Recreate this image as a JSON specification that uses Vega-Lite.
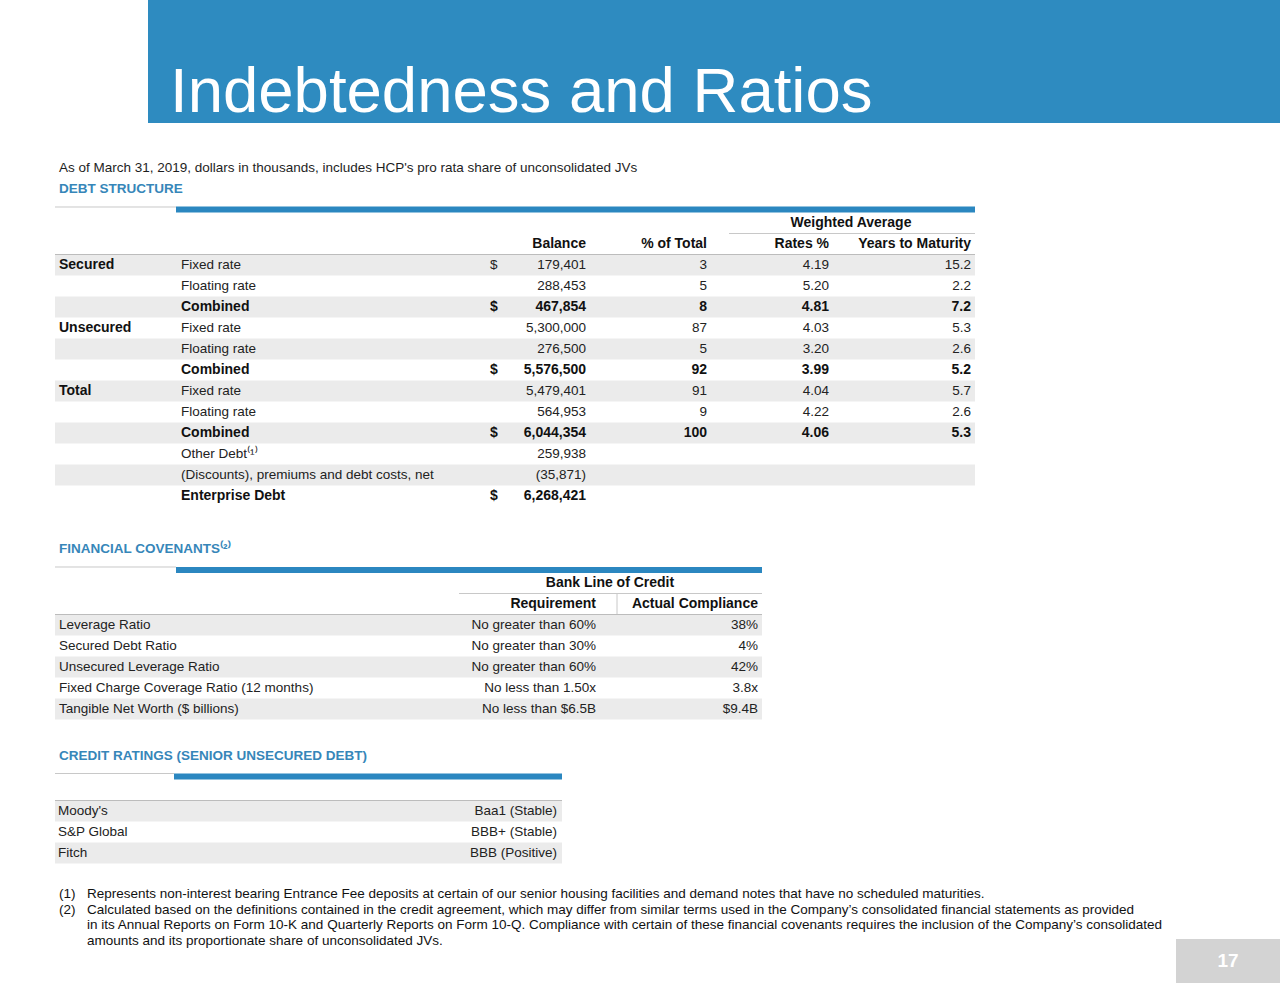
{
  "$schema": "https://vega.github.io/schema/vega-lite/v6.json",
  "width": 1280,
  "height": 989,
  "padding": 0,
  "autosize": "none",
  "background": "#ffffff",
  "config": {
    "view": {"stroke": null},
    "axis": {"disable": true},
    "text": {"font": "Liberation Sans", "fontSize": 13.5, "baseline": "middle"}
  },
  "datasets": {
    "debt": [
      {"r": 0, "k": "head", "c": 9, "t": "Weighted Average"},
      {"r": 1, "k": "head", "c": 5, "t": "Balance"},
      {"r": 1, "k": "head", "c": 6, "t": "% of Total"},
      {"r": 1, "k": "head", "c": 8, "t": "Rates %"},
      {"r": 1, "k": "head", "c": 10, "t": "Years to Maturity"},
      {"r": 2, "k": "detail", "c": 1, "t": "Secured"},
      {"r": 2, "k": "detail", "c": 3, "t": "Fixed rate"},
      {"r": 2, "k": "detail", "c": 4, "t": "$"},
      {"r": 2, "k": "detail", "c": 5, "t": "179,401"},
      {"r": 2, "k": "detail", "c": 6, "t": "3"},
      {"r": 2, "k": "detail", "c": 8, "t": "4.19"},
      {"r": 2, "k": "detail", "c": 10, "t": "15.2"},
      {"r": 3, "k": "detail", "c": 3, "t": "Floating rate"},
      {"r": 3, "k": "detail", "c": 5, "t": "288,453"},
      {"r": 3, "k": "detail", "c": 6, "t": "5"},
      {"r": 3, "k": "detail", "c": 8, "t": "5.20"},
      {"r": 3, "k": "detail", "c": 10, "t": "2.2"},
      {"r": 4, "k": "total", "c": 3, "t": "Combined"},
      {"r": 4, "k": "total", "c": 4, "t": "$"},
      {"r": 4, "k": "total", "c": 5, "t": "467,854"},
      {"r": 4, "k": "total", "c": 6, "t": "8"},
      {"r": 4, "k": "total", "c": 8, "t": "4.81"},
      {"r": 4, "k": "total", "c": 10, "t": "7.2"},
      {"r": 5, "k": "detail", "c": 1, "t": "Unsecured"},
      {"r": 5, "k": "detail", "c": 3, "t": "Fixed rate"},
      {"r": 5, "k": "detail", "c": 5, "t": "5,300,000"},
      {"r": 5, "k": "detail", "c": 6, "t": "87"},
      {"r": 5, "k": "detail", "c": 8, "t": "4.03"},
      {"r": 5, "k": "detail", "c": 10, "t": "5.3"},
      {"r": 6, "k": "detail", "c": 3, "t": "Floating rate"},
      {"r": 6, "k": "detail", "c": 5, "t": "276,500"},
      {"r": 6, "k": "detail", "c": 6, "t": "5"},
      {"r": 6, "k": "detail", "c": 8, "t": "3.20"},
      {"r": 6, "k": "detail", "c": 10, "t": "2.6"},
      {"r": 7, "k": "total", "c": 3, "t": "Combined"},
      {"r": 7, "k": "total", "c": 4, "t": "$"},
      {"r": 7, "k": "total", "c": 5, "t": "5,576,500"},
      {"r": 7, "k": "total", "c": 6, "t": "92"},
      {"r": 7, "k": "total", "c": 8, "t": "3.99"},
      {"r": 7, "k": "total", "c": 10, "t": "5.2"},
      {"r": 8, "k": "detail", "c": 1, "t": "Total"},
      {"r": 8, "k": "detail", "c": 3, "t": "Fixed rate"},
      {"r": 8, "k": "detail", "c": 5, "t": "5,479,401"},
      {"r": 8, "k": "detail", "c": 6, "t": "91"},
      {"r": 8, "k": "detail", "c": 8, "t": "4.04"},
      {"r": 8, "k": "detail", "c": 10, "t": "5.7"},
      {"r": 9, "k": "detail", "c": 3, "t": "Floating rate"},
      {"r": 9, "k": "detail", "c": 5, "t": "564,953"},
      {"r": 9, "k": "detail", "c": 6, "t": "9"},
      {"r": 9, "k": "detail", "c": 8, "t": "4.22"},
      {"r": 9, "k": "detail", "c": 10, "t": "2.6"},
      {"r": 10, "k": "total", "c": 3, "t": "Combined"},
      {"r": 10, "k": "total", "c": 4, "t": "$"},
      {"r": 10, "k": "total", "c": 5, "t": "6,044,354"},
      {"r": 10, "k": "total", "c": 6, "t": "100"},
      {"r": 10, "k": "total", "c": 8, "t": "4.06"},
      {"r": 10, "k": "total", "c": 10, "t": "5.3"},
      {"r": 11, "k": "detail", "c": 3, "t": "Other Debt⁽¹⁾"},
      {"r": 11, "k": "detail", "c": 5, "t": "259,938"},
      {"r": 12, "k": "detail", "c": 3, "t": "(Discounts), premiums and debt costs, net"},
      {"r": 12, "k": "detail", "c": 5, "t": "(35,871)"},
      {"r": 13, "k": "total", "c": 3, "t": "Enterprise Debt"},
      {"r": 13, "k": "total", "c": 4, "t": "$"},
      {"r": 13, "k": "total", "c": 5, "t": "6,268,421"}
    ],
    "covenants": [
      {"r": 0, "k": "head", "c": 5, "t": "Bank Line of Credit"},
      {"r": 1, "k": "head", "c": 4, "t": "Requirement"},
      {"r": 1, "k": "head", "c": 7, "t": "Actual Compliance"},
      {"r": 2, "k": "detail", "c": 1, "t": "Leverage Ratio"},
      {"r": 2, "k": "detail", "c": 4, "t": "No greater than 60%"},
      {"r": 2, "k": "detail", "c": 7, "t": "38%"},
      {"r": 3, "k": "detail", "c": 1, "t": "Secured Debt Ratio"},
      {"r": 3, "k": "detail", "c": 4, "t": "No greater than 30%"},
      {"r": 3, "k": "detail", "c": 7, "t": "4%"},
      {"r": 4, "k": "detail", "c": 1, "t": "Unsecured Leverage Ratio"},
      {"r": 4, "k": "detail", "c": 4, "t": "No greater than 60%"},
      {"r": 4, "k": "detail", "c": 7, "t": "42%"},
      {"r": 5, "k": "detail", "c": 1, "t": "Fixed Charge Coverage Ratio (12 months)"},
      {"r": 5, "k": "detail", "c": 4, "t": "No less than 1.50x"},
      {"r": 5, "k": "detail", "c": 7, "t": "3.8x"},
      {"r": 6, "k": "detail", "c": 1, "t": "Tangible Net Worth ($ billions)"},
      {"r": 6, "k": "detail", "c": 4, "t": "No less than $6.5B"},
      {"r": 6, "k": "detail", "c": 7, "t": "$9.4B"}
    ],
    "ratings": [
      {"r": 0, "c": 1, "t": "Moody's"},
      {"r": 0, "c": 3, "t": "Baa1 (Stable)"},
      {"r": 1, "c": 1, "t": "S&P Global"},
      {"r": 1, "c": 3, "t": "BBB+ (Stable)"},
      {"r": 2, "c": 1, "t": "Fitch"},
      {"r": 2, "c": 3, "t": "BBB (Positive)"}
    ],
    "notes": [
      {"l": 0, "c": 1, "k": "sub", "t": "As of March 31, 2019, dollars in thousands, includes HCP's pro rata share of unconsolidated JVs"},
      {"l": 1, "c": 1, "k": "head", "t": "DEBT STRUCTURE"},
      {"l": 2, "c": 1, "k": "head", "t": "FINANCIAL COVENANTS⁽²⁾"},
      {"l": 3, "c": 1, "k": "head", "t": "CREDIT RATINGS (SENIOR UNSECURED DEBT)"},
      {"l": 4, "c": 1, "k": "foot", "t": "(1)"},
      {"l": 4, "c": 2, "k": "foot", "t": "Represents non-interest bearing Entrance Fee deposits at certain of our senior housing facilities and demand notes that have no scheduled maturities."},
      {"l": 5, "c": 1, "k": "foot", "t": "(2)"},
      {"l": 5, "c": 2, "k": "foot", "t": "Calculated based on the definitions contained in the credit agreement, which may differ from similar terms used in the Company’s consolidated financial statements as provided"},
      {"l": 6, "c": 2, "k": "foot", "t": "in its Annual Reports on Form 10-K and Quarterly Reports on Form 10-Q. Compliance with certain of these financial covenants requires the inclusion of the Company’s consolidated"},
      {"l": 7, "c": 2, "k": "foot", "t": "amounts and its proportionate share of unconsolidated JVs."}
    ]
  },
  "layer": [
    {
      "data": {"values": [{"title": "Indebtedness and Ratios"}]},
      "layer": [
        {
          "mark": {"type": "rect", "fill": "#2e8bc0"},
          "encoding": {
            "x": {"field": "title", "type": "nominal", "scale": {"type": "band", "range": [148, 1280], "paddingInner": 0, "paddingOuter": 0}},
            "y": {"field": "title", "type": "nominal", "scale": {"type": "band", "range": [0, 123], "paddingInner": 0, "paddingOuter": 0}}
          }
        },
        {
          "mark": {"type": "text", "fill": "#ffffff", "fontSize": 63.5, "align": "left", "baseline": "alphabetic", "dx": 22, "dy": -11},
          "encoding": {
            "x": {"field": "title", "type": "nominal", "bandPosition": 0, "scale": {"type": "band", "range": [148, 1280], "paddingInner": 0, "paddingOuter": 0}},
            "y": {"field": "title", "type": "nominal", "bandPosition": 1, "scale": {"type": "band", "range": [0, 123], "paddingInner": 0, "paddingOuter": 0}},
            "text": {"field": "title"}
          }
        }
      ]
    },
    {
      "data": {"values": [{"page": "17"}]},
      "layer": [
        {
          "mark": {"type": "rect", "fill": "#d3d3d3"},
          "encoding": {
            "x": {"field": "page", "type": "nominal", "scale": {"type": "band", "range": [1176, 1280], "paddingInner": 0, "paddingOuter": 0}},
            "y": {"field": "page", "type": "nominal", "scale": {"type": "band", "range": [939, 983], "paddingInner": 0, "paddingOuter": 0}}
          }
        },
        {
          "mark": {"type": "text", "fill": "#ffffff", "fontSize": 19, "fontWeight": "bold", "align": "center"},
          "encoding": {
            "x": {"field": "page", "type": "nominal", "scale": {"type": "band", "range": [1176, 1280], "paddingInner": 0, "paddingOuter": 0}},
            "y": {"field": "page", "type": "nominal", "scale": {"type": "band", "range": [939, 983], "paddingInner": 0, "paddingOuter": 0}},
            "text": {"field": "page"}
          }
        }
      ]
    },
    {
      "data": {"name": "notes"},
      "layer": [
        {
          "transform": [{"filter": "datum.k == 'sub'"}],
          "mark": {"type": "text", "align": "left", "fill": "#1e1e1e"},
          "encoding": {
            "x": {"field": "c", "type": "quantitative", "scale": {"domain": [0, 1, 2], "range": [55, 59, 87], "nice": false, "zero": false}},
            "y": {"field": "l", "type": "quantitative", "scale": {"domain": [0, 1, 2, 3, 4, 5, 6, 7], "range": [168, 189, 549, 756, 894, 909.5, 925, 940.5], "nice": false, "zero": false}},
            "text": {"field": "t"}
          }
        },
        {
          "transform": [{"filter": "datum.k == 'head'"}],
          "mark": {"type": "text", "align": "left", "fill": "#3686b9", "fontWeight": "bold"},
          "encoding": {
            "x": {"field": "c", "type": "quantitative", "scale": {"domain": [0, 1, 2], "range": [55, 59, 87], "nice": false, "zero": false}},
            "y": {"field": "l", "type": "quantitative", "scale": {"domain": [0, 1, 2, 3, 4, 5, 6, 7], "range": [168, 189, 549, 756, 894, 909.5, 925, 940.5], "nice": false, "zero": false}},
            "text": {"field": "t"}
          }
        },
        {
          "transform": [{"filter": "datum.k == 'foot'"}],
          "mark": {"type": "text", "align": "left", "fill": "#111111", "fontSize": 13.5},
          "encoding": {
            "x": {"field": "c", "type": "quantitative", "scale": {"domain": [0, 1, 2], "range": [55, 59, 87], "nice": false, "zero": false}},
            "y": {"field": "l", "type": "quantitative", "scale": {"domain": [0, 1, 2, 3, 4, 5, 6, 7], "range": [168, 189, 549, 756, 894, 909.5, 925, 940.5], "nice": false, "zero": false}},
            "text": {"field": "t"}
          }
        }
      ]
    },
    {
      "data": {"name": "debt"},
      "layer": [
        {
          "transform": [{"aggregate": [{"op": "count", "as": "n"}], "groupby": ["r"]}, {"filter": "datum.r >= 2 && datum.r % 2 == 0"}],
          "mark": {"type": "rect", "fill": "#ebebeb", "yOffset": -10.5, "y2Offset": 10.5},
          "encoding": {
            "x": {"datum": 0, "type": "quantitative", "scale": {"domain": [0, 1, 2, 3, 4, 5, 6, 7, 8, 9, 10, 11], "range": [55, 59, 176, 181, 490, 586, 707, 729, 829, 851, 971, 975], "nice": false, "zero": false}},
            "x2": {"datum": 11},
            "y": {"field": "r", "type": "quantitative", "scale": {"domain": [0, 13], "range": [223, 496], "nice": false, "zero": false}},
            "y2": {"field": "r"}
          }
        },
        {
          "data": {"values": [{"part": "lead rule"}]},
          "mark": {"type": "rule", "stroke": "#c8c8c8", "strokeWidth": 1},
          "encoding": {
            "x": {"datum": 0, "type": "quantitative", "scale": {"domain": [0, 1, 2, 3, 4, 5, 6, 7, 8, 9, 10, 11], "range": [55, 59, 176, 181, 490, 586, 707, 729, 829, 851, 971, 975], "nice": false, "zero": false}},
            "x2": {"datum": 2},
            "y": {"datum": -0.762, "type": "quantitative", "scale": {"domain": [0, 13], "range": [223, 496], "nice": false, "zero": false}}
          }
        },
        {
          "data": {"values": [{"part": "blue bar"}]},
          "mark": {"type": "rect", "fill": "#2b87c0"},
          "encoding": {
            "x": {"datum": 2, "type": "quantitative", "scale": {"domain": [0, 1, 2, 3, 4, 5, 6, 7, 8, 9, 10, 11], "range": [55, 59, 176, 181, 490, 586, 707, 729, 829, 851, 971, 975], "nice": false, "zero": false}},
            "x2": {"datum": 11},
            "y": {"datum": -0.786, "type": "quantitative", "scale": {"domain": [0, 13], "range": [223, 496], "nice": false, "zero": false}},
            "y2": {"datum": -0.5}
          }
        },
        {
          "data": {"values": [{"part": "group rule"}]},
          "mark": {"type": "rule", "stroke": "#c8c8c8", "strokeWidth": 1},
          "encoding": {
            "x": {"datum": 7, "type": "quantitative", "scale": {"domain": [0, 1, 2, 3, 4, 5, 6, 7, 8, 9, 10, 11], "range": [55, 59, 176, 181, 490, 586, 707, 729, 829, 851, 971, 975], "nice": false, "zero": false}},
            "x2": {"datum": 11},
            "y": {"datum": 0.5, "type": "quantitative", "scale": {"domain": [0, 13], "range": [223, 496], "nice": false, "zero": false}}
          }
        },
        {
          "data": {"values": [{"part": "header rule"}]},
          "mark": {"type": "rule", "stroke": "#bcbcbc", "strokeWidth": 1},
          "encoding": {
            "x": {"datum": 0, "type": "quantitative", "scale": {"domain": [0, 1, 2, 3, 4, 5, 6, 7, 8, 9, 10, 11], "range": [55, 59, 176, 181, 490, 586, 707, 729, 829, 851, 971, 975], "nice": false, "zero": false}},
            "x2": {"datum": 11},
            "y": {"datum": 1.5, "type": "quantitative", "scale": {"domain": [0, 13], "range": [223, 496], "nice": false, "zero": false}}
          }
        },
        {
          "transform": [{"filter": "(datum.c == 3 || datum.c == 4) && datum.k == 'detail'"}],
          "mark": {"type": "text", "align": "left", "fill": "#222222"},
          "encoding": {
            "x": {"field": "c", "type": "quantitative", "scale": {"domain": [0, 1, 2, 3, 4, 5, 6, 7, 8, 9, 10, 11], "range": [55, 59, 176, 181, 490, 586, 707, 729, 829, 851, 971, 975], "nice": false, "zero": false}},
            "y": {"field": "r", "type": "quantitative", "scale": {"domain": [0, 13], "range": [223, 496], "nice": false, "zero": false}},
            "text": {"field": "t"}
          }
        },
        {
          "transform": [{"filter": "datum.c == 1 || ((datum.c == 3 || datum.c == 4) && datum.k != 'detail')"}],
          "mark": {"type": "text", "align": "left", "fill": "#111111", "fontWeight": "bold", "fontSize": 14},
          "encoding": {
            "x": {"field": "c", "type": "quantitative", "scale": {"domain": [0, 1, 2, 3, 4, 5, 6, 7, 8, 9, 10, 11], "range": [55, 59, 176, 181, 490, 586, 707, 729, 829, 851, 971, 975], "nice": false, "zero": false}},
            "y": {"field": "r", "type": "quantitative", "scale": {"domain": [0, 13], "range": [223, 496], "nice": false, "zero": false}},
            "text": {"field": "t"}
          }
        },
        {
          "transform": [{"filter": "datum.c >= 5 && datum.c != 9 && datum.k == 'detail'"}],
          "mark": {"type": "text", "align": "right", "fill": "#222222"},
          "encoding": {
            "x": {"field": "c", "type": "quantitative", "scale": {"domain": [0, 1, 2, 3, 4, 5, 6, 7, 8, 9, 10, 11], "range": [55, 59, 176, 181, 490, 586, 707, 729, 829, 851, 971, 975], "nice": false, "zero": false}},
            "y": {"field": "r", "type": "quantitative", "scale": {"domain": [0, 13], "range": [223, 496], "nice": false, "zero": false}},
            "text": {"field": "t"}
          }
        },
        {
          "transform": [{"filter": "datum.c >= 5 && datum.c != 9 && datum.k != 'detail'"}],
          "mark": {"type": "text", "align": "right", "fill": "#111111", "fontWeight": "bold", "fontSize": 14},
          "encoding": {
            "x": {"field": "c", "type": "quantitative", "scale": {"domain": [0, 1, 2, 3, 4, 5, 6, 7, 8, 9, 10, 11], "range": [55, 59, 176, 181, 490, 586, 707, 729, 829, 851, 971, 975], "nice": false, "zero": false}},
            "y": {"field": "r", "type": "quantitative", "scale": {"domain": [0, 13], "range": [223, 496], "nice": false, "zero": false}},
            "text": {"field": "t"}
          }
        },
        {
          "transform": [{"filter": "datum.c == 9"}],
          "mark": {"type": "text", "align": "center", "fill": "#111111", "fontWeight": "bold", "fontSize": 14},
          "encoding": {
            "x": {"field": "c", "type": "quantitative", "scale": {"domain": [0, 1, 2, 3, 4, 5, 6, 7, 8, 9, 10, 11], "range": [55, 59, 176, 181, 490, 586, 707, 729, 829, 851, 971, 975], "nice": false, "zero": false}},
            "y": {"field": "r", "type": "quantitative", "scale": {"domain": [0, 13], "range": [223, 496], "nice": false, "zero": false}},
            "text": {"field": "t"}
          }
        }
      ]
    },
    {
      "data": {"name": "covenants"},
      "layer": [
        {
          "transform": [{"aggregate": [{"op": "count", "as": "n"}], "groupby": ["r"]}, {"filter": "datum.r >= 2 && datum.r % 2 == 0"}],
          "mark": {"type": "rect", "fill": "#ebebeb", "yOffset": -10.5, "y2Offset": 10.5},
          "encoding": {
            "x": {"datum": 0, "type": "quantitative", "scale": {"domain": [0, 1, 2, 3, 4, 5, 6, 7, 8], "range": [55, 59, 176, 459, 596, 610, 617, 758, 762], "nice": false, "zero": false}},
            "x2": {"datum": 8},
            "y": {"field": "r", "type": "quantitative", "scale": {"domain": [0, 6], "range": [583, 709], "nice": false, "zero": false}},
            "y2": {"field": "r"}
          }
        },
        {
          "data": {"values": [{"part": "lead rule"}]},
          "mark": {"type": "rule", "stroke": "#c8c8c8", "strokeWidth": 1},
          "encoding": {
            "x": {"datum": 0, "type": "quantitative", "scale": {"domain": [0, 1, 2, 3, 4, 5, 6, 7, 8], "range": [55, 59, 176, 459, 596, 610, 617, 758, 762], "nice": false, "zero": false}},
            "x2": {"datum": 2},
            "y": {"datum": -0.762, "type": "quantitative", "scale": {"domain": [0, 6], "range": [583, 709], "nice": false, "zero": false}}
          }
        },
        {
          "data": {"values": [{"part": "blue bar"}]},
          "mark": {"type": "rect", "fill": "#2b87c0"},
          "encoding": {
            "x": {"datum": 2, "type": "quantitative", "scale": {"domain": [0, 1, 2, 3, 4, 5, 6, 7, 8], "range": [55, 59, 176, 459, 596, 610, 617, 758, 762], "nice": false, "zero": false}},
            "x2": {"datum": 8},
            "y": {"datum": -0.762, "type": "quantitative", "scale": {"domain": [0, 6], "range": [583, 709], "nice": false, "zero": false}},
            "y2": {"datum": -0.476}
          }
        },
        {
          "data": {"values": [{"part": "group rule"}]},
          "mark": {"type": "rule", "stroke": "#c8c8c8", "strokeWidth": 1},
          "encoding": {
            "x": {"datum": 3, "type": "quantitative", "scale": {"domain": [0, 1, 2, 3, 4, 5, 6, 7, 8], "range": [55, 59, 176, 459, 596, 610, 617, 758, 762], "nice": false, "zero": false}},
            "x2": {"datum": 8},
            "y": {"datum": 0.5, "type": "quantitative", "scale": {"domain": [0, 6], "range": [583, 709], "nice": false, "zero": false}}
          }
        },
        {
          "data": {"values": [{"part": "column divider"}]},
          "mark": {"type": "rule", "stroke": "#c8c8c8", "strokeWidth": 1},
          "encoding": {
            "x": {"datum": 6, "type": "quantitative", "scale": {"domain": [0, 1, 2, 3, 4, 5, 6, 7, 8], "range": [55, 59, 176, 459, 596, 610, 617, 758, 762], "nice": false, "zero": false}},
            "y": {"datum": 0.5, "type": "quantitative", "scale": {"domain": [0, 6], "range": [583, 709], "nice": false, "zero": false}},
            "y2": {"datum": 1.5}
          }
        },
        {
          "data": {"values": [{"part": "header rule"}]},
          "mark": {"type": "rule", "stroke": "#bcbcbc", "strokeWidth": 1},
          "encoding": {
            "x": {"datum": 0, "type": "quantitative", "scale": {"domain": [0, 1, 2, 3, 4, 5, 6, 7, 8], "range": [55, 59, 176, 459, 596, 610, 617, 758, 762], "nice": false, "zero": false}},
            "x2": {"datum": 8},
            "y": {"datum": 1.5, "type": "quantitative", "scale": {"domain": [0, 6], "range": [583, 709], "nice": false, "zero": false}}
          }
        },
        {
          "transform": [{"filter": "datum.c == 1"}],
          "mark": {"type": "text", "align": "left", "fill": "#222222"},
          "encoding": {
            "x": {"field": "c", "type": "quantitative", "scale": {"domain": [0, 1, 2, 3, 4, 5, 6, 7, 8], "range": [55, 59, 176, 459, 596, 610, 617, 758, 762], "nice": false, "zero": false}},
            "y": {"field": "r", "type": "quantitative", "scale": {"domain": [0, 6], "range": [583, 709], "nice": false, "zero": false}},
            "text": {"field": "t"}
          }
        },
        {
          "transform": [{"filter": "(datum.c == 4 || datum.c == 7) && datum.k == 'detail'"}],
          "mark": {"type": "text", "align": "right", "fill": "#222222"},
          "encoding": {
            "x": {"field": "c", "type": "quantitative", "scale": {"domain": [0, 1, 2, 3, 4, 5, 6, 7, 8], "range": [55, 59, 176, 459, 596, 610, 617, 758, 762], "nice": false, "zero": false}},
            "y": {"field": "r", "type": "quantitative", "scale": {"domain": [0, 6], "range": [583, 709], "nice": false, "zero": false}},
            "text": {"field": "t"}
          }
        },
        {
          "transform": [{"filter": "(datum.c == 4 || datum.c == 7) && datum.k == 'head'"}],
          "mark": {"type": "text", "align": "right", "fill": "#111111", "fontWeight": "bold", "fontSize": 14},
          "encoding": {
            "x": {"field": "c", "type": "quantitative", "scale": {"domain": [0, 1, 2, 3, 4, 5, 6, 7, 8], "range": [55, 59, 176, 459, 596, 610, 617, 758, 762], "nice": false, "zero": false}},
            "y": {"field": "r", "type": "quantitative", "scale": {"domain": [0, 6], "range": [583, 709], "nice": false, "zero": false}},
            "text": {"field": "t"}
          }
        },
        {
          "transform": [{"filter": "datum.c == 5"}],
          "mark": {"type": "text", "align": "center", "fill": "#111111", "fontWeight": "bold", "fontSize": 14},
          "encoding": {
            "x": {"field": "c", "type": "quantitative", "scale": {"domain": [0, 1, 2, 3, 4, 5, 6, 7, 8], "range": [55, 59, 176, 459, 596, 610, 617, 758, 762], "nice": false, "zero": false}},
            "y": {"field": "r", "type": "quantitative", "scale": {"domain": [0, 6], "range": [583, 709], "nice": false, "zero": false}},
            "text": {"field": "t"}
          }
        }
      ]
    },
    {
      "data": {"name": "ratings"},
      "layer": [
        {
          "transform": [{"aggregate": [{"op": "count", "as": "n"}], "groupby": ["r"]}, {"filter": "datum.r % 2 == 0"}],
          "mark": {"type": "rect", "fill": "#ebebeb", "yOffset": -10.5, "y2Offset": 10.5},
          "encoding": {
            "x": {"datum": 0, "type": "quantitative", "scale": {"domain": [0, 1, 2, 3, 4], "range": [55, 58, 174, 557, 562], "nice": false, "zero": false}},
            "x2": {"datum": 4},
            "y": {"field": "r", "type": "quantitative", "scale": {"domain": [0, 2], "range": [811, 853], "nice": false, "zero": false}},
            "y2": {"field": "r"}
          }
        },
        {
          "data": {"values": [{"part": "lead rule"}]},
          "mark": {"type": "rule", "stroke": "#c8c8c8", "strokeWidth": 1},
          "encoding": {
            "x": {"datum": 0, "type": "quantitative", "scale": {"domain": [0, 1, 2, 3, 4], "range": [55, 58, 174, 557, 562], "nice": false, "zero": false}},
            "x2": {"datum": 2},
            "y": {"datum": -1.786, "type": "quantitative", "scale": {"domain": [0, 2], "range": [811, 853], "nice": false, "zero": false}}
          }
        },
        {
          "data": {"values": [{"part": "blue bar"}]},
          "mark": {"type": "rect", "fill": "#2b87c0"},
          "encoding": {
            "x": {"datum": 2, "type": "quantitative", "scale": {"domain": [0, 1, 2, 3, 4], "range": [55, 58, 174, 557, 562], "nice": false, "zero": false}},
            "x2": {"datum": 4},
            "y": {"datum": -1.786, "type": "quantitative", "scale": {"domain": [0, 2], "range": [811, 853], "nice": false, "zero": false}},
            "y2": {"datum": -1.5}
          }
        },
        {
          "data": {"values": [{"part": "header rule"}]},
          "mark": {"type": "rule", "stroke": "#bcbcbc", "strokeWidth": 1},
          "encoding": {
            "x": {"datum": 0, "type": "quantitative", "scale": {"domain": [0, 1, 2, 3, 4], "range": [55, 58, 174, 557, 562], "nice": false, "zero": false}},
            "x2": {"datum": 4},
            "y": {"datum": -0.5, "type": "quantitative", "scale": {"domain": [0, 2], "range": [811, 853], "nice": false, "zero": false}}
          }
        },
        {
          "transform": [{"filter": "datum.c == 1"}],
          "mark": {"type": "text", "align": "left", "fill": "#222222"},
          "encoding": {
            "x": {"field": "c", "type": "quantitative", "scale": {"domain": [0, 1, 2, 3, 4], "range": [55, 58, 174, 557, 562], "nice": false, "zero": false}},
            "y": {"field": "r", "type": "quantitative", "scale": {"domain": [0, 2], "range": [811, 853], "nice": false, "zero": false}},
            "text": {"field": "t"}
          }
        },
        {
          "transform": [{"filter": "datum.c == 3"}],
          "mark": {"type": "text", "align": "right", "fill": "#222222"},
          "encoding": {
            "x": {"field": "c", "type": "quantitative", "scale": {"domain": [0, 1, 2, 3, 4], "range": [55, 58, 174, 557, 562], "nice": false, "zero": false}},
            "y": {"field": "r", "type": "quantitative", "scale": {"domain": [0, 2], "range": [811, 853], "nice": false, "zero": false}},
            "text": {"field": "t"}
          }
        }
      ]
    }
  ],
  "resolve": {"scale": {"x": "independent", "y": "independent"}}
}
